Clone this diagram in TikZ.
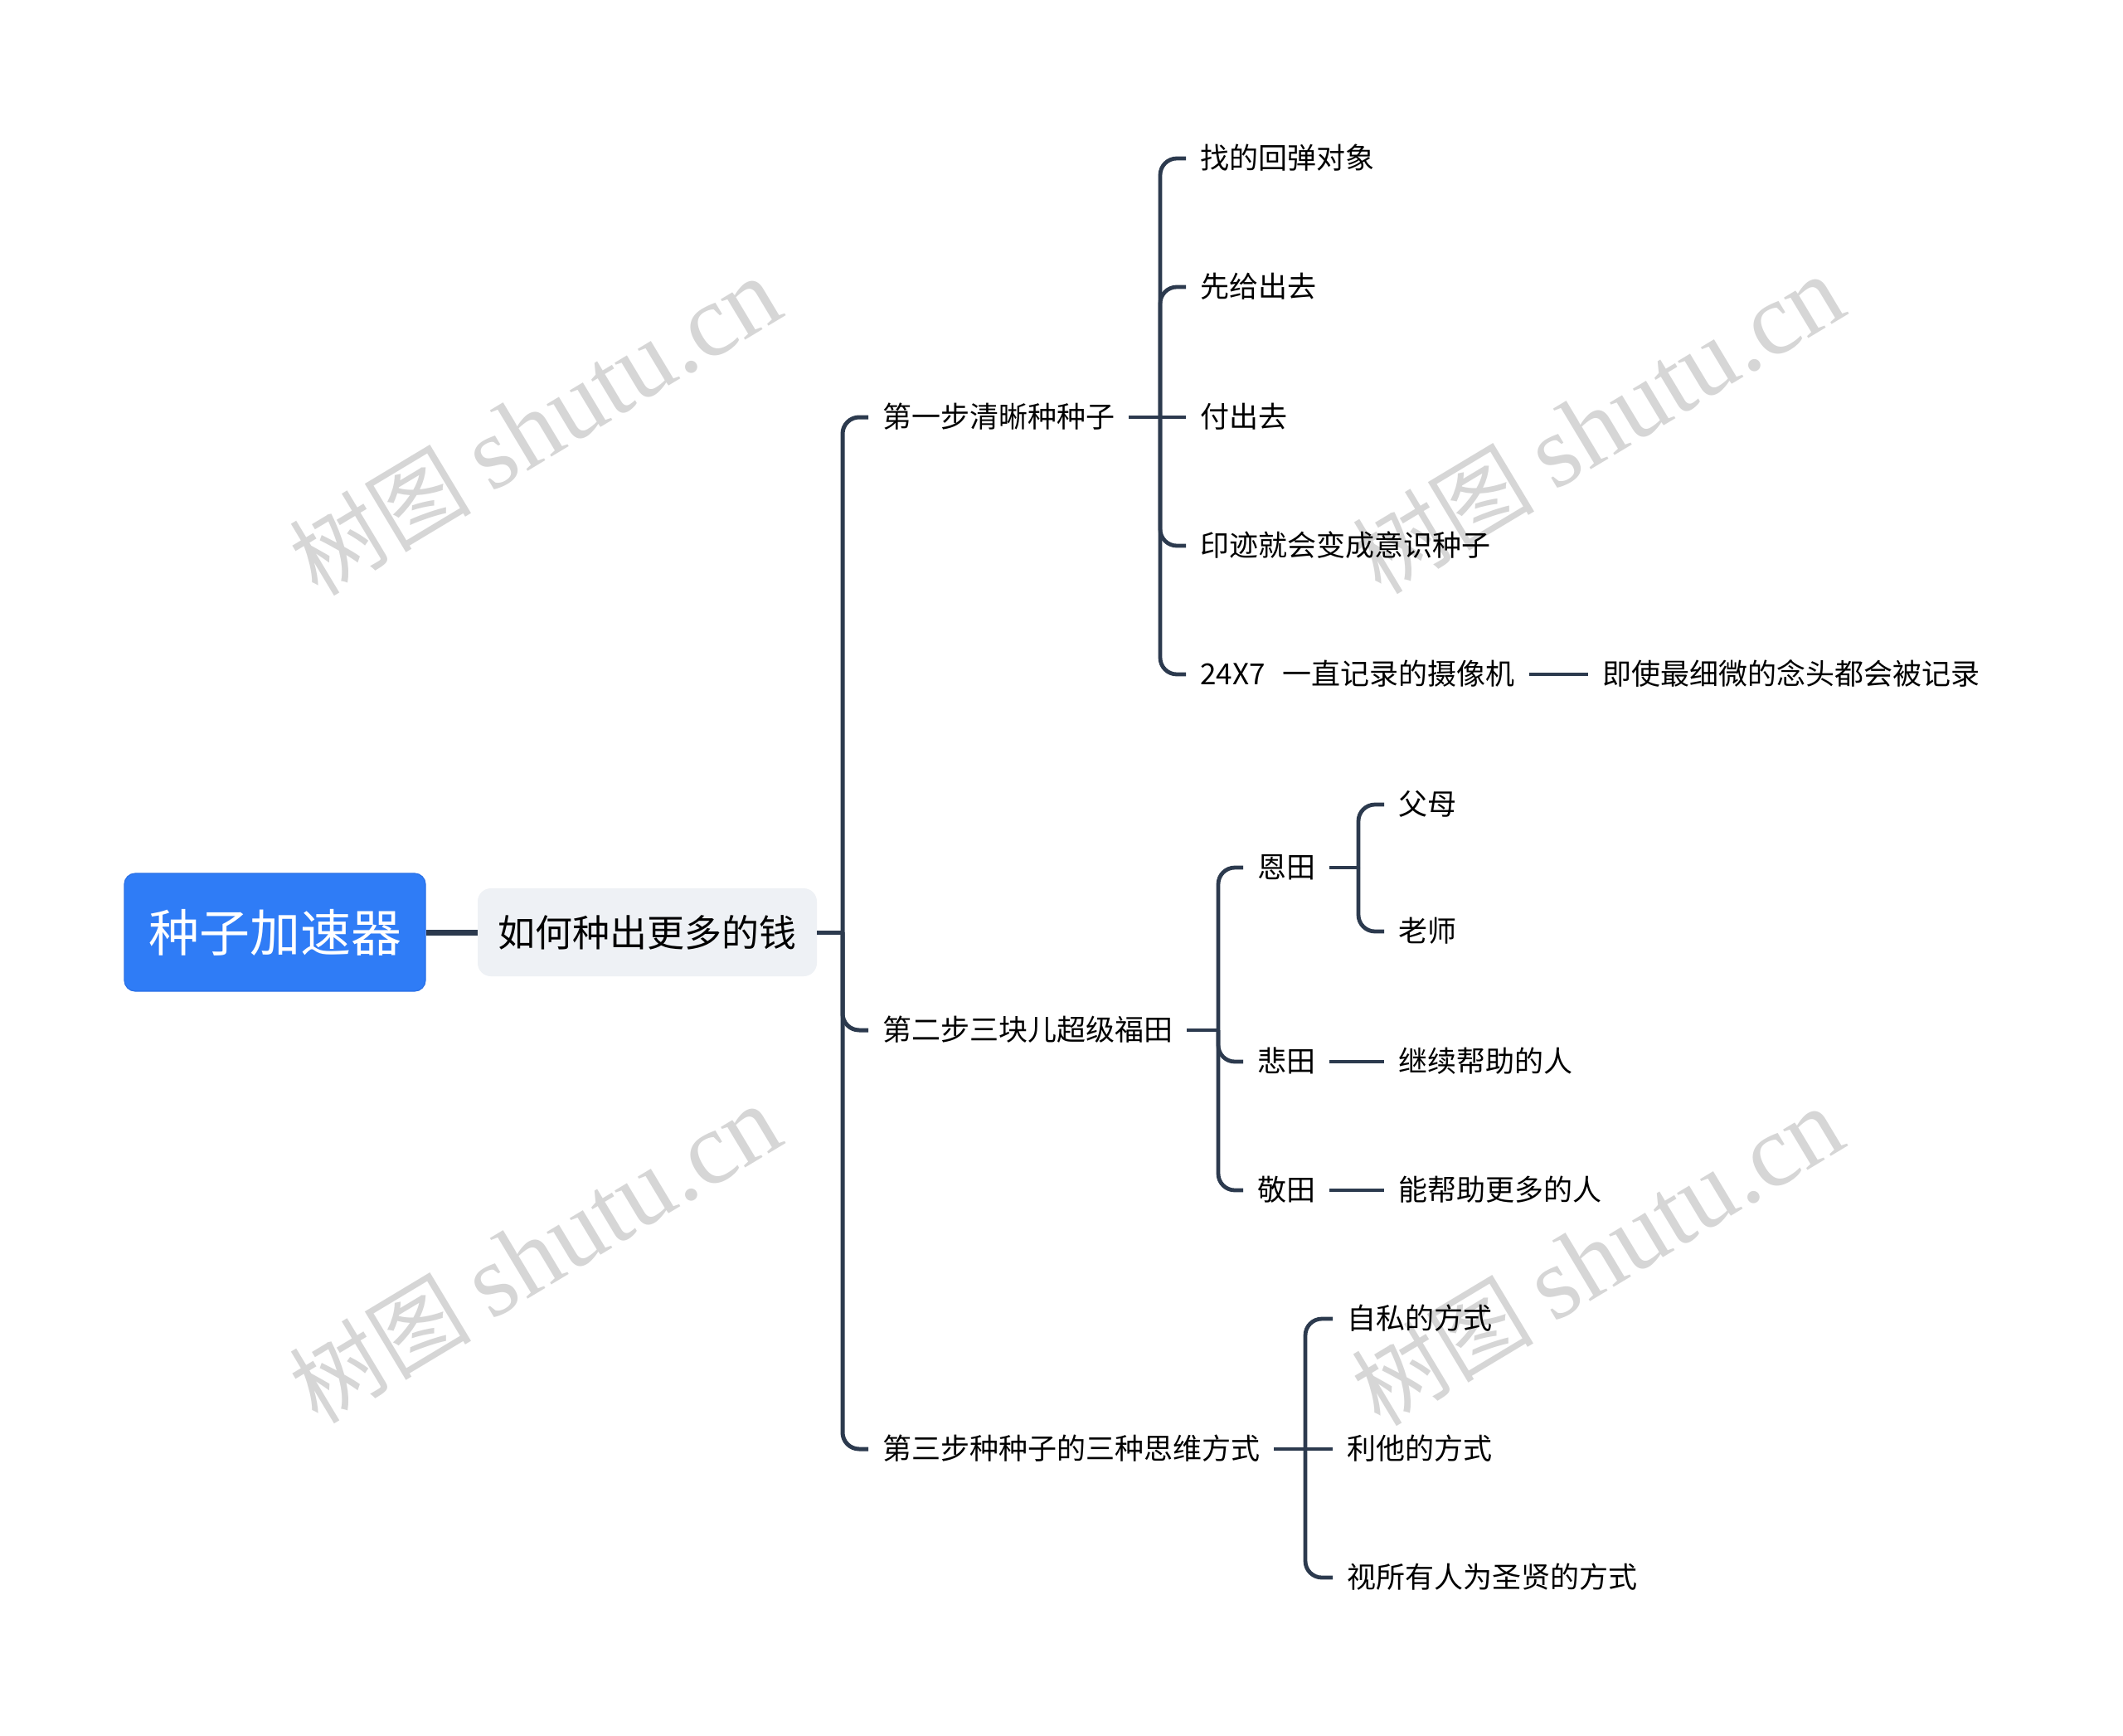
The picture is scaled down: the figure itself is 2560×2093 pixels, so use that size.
\documentclass[tikz,border=0pt]{standalone}
\usepackage{fontspec}
\setmainfont{Noto Sans CJK SC}
\newfontfamily\wmserif{Liberation Serif}
\definecolor{linecol}{HTML}{2C3A4E}
\definecolor{rootblue}{HTML}{2F7CF6}
\definecolor{rootedge}{HTML}{2A70E6}
\definecolor{subfill}{HTML}{EEF1F5}
\definecolor{wmgray}{HTML}{D6D6D6}
\begin{document}
\begin{tikzpicture}[x=1pt,y=-1pt,
  rootbox/.style={draw=rootedge, line width=1.2pt, fill=rootblue, rounded corners=13pt,
    minimum width=363pt, minimum height=142pt, inner sep=0pt, text=white,
    font=\fontsize{61}{70}\selectfont},
  subbox/.style={fill=subfill, rounded corners=16pt, minimum width=409pt,
    minimum height=106pt, inner sep=0pt, text=black, font=\fontsize{45}{54}\selectfont},
  txt/.style={anchor=west, inner xsep=17pt, inner ysep=0pt, text=black,
    font=\fontsize{35}{42}\selectfont, text height=30pt, text depth=5pt},
  conn/.style={draw=linecol, line width=4.8pt, rounded corners=20pt},
  wm/.style={text=wmgray, rotate=31, inner sep=0pt}
]
\useasboundingbox (0,0) rectangle (2560,2093);
\fill[white] (0,0) rectangle (2560,2093);

% watermarks
\foreach \p/\n in {{(645,514)}/wa,{(1927,512)}/wb,{(645,1512)}/wc,{(1926,1515)}/wd}{
  \node[wm] (\n) at \p {\fontsize{110}{120}\selectfont 树图 {\wmserif\fontsize{124}{130}\selectfont shutu.cn}};
}

% root and subtopic
\node[rootbox] (root) at (331.5,1124) {种子加速器};
\node[subbox] (sub) at (780.5,1124) {如何种出更多的钱};
\draw[draw=linecol, line width=7pt] (root.east) -- (sub.west);

\coordinate (t0) at (1016,1124);
\draw[draw=linecol, line width=5pt] (sub.east) -- (t0);

% level 1
\node[txt] (b1) at (1047,503) {第一步清晰种种子};
\node[txt] (b2) at (1047,1242) {第二步三块儿超级福田};
\node[txt] (b3) at (1047,1747) {第三步种种子的三种思维方式};
\draw[conn, line width=5pt] (t0) |- (b1.west);
\draw[conn, line width=5pt] (t0) |- (b2.west);
\draw[conn, line width=5pt] (t0) |- (b3.west);

% branch 1
\coordinate (t1) at (1399,503);
\draw[conn] (b1.east) -- (t1);
\node[txt] (c11) at (1430,191) {找的回弹对象};
\node[txt] (c12) at (1430,346) {先给出去};
\node[txt] (c13) at (1430,503) {付出去};
\node[txt] (c14) at (1430,658) {印迹就会变成意识种子};
\node[txt] (c15) at (1430,813) {24X7\hspace{0.6em}一直记录的摄像机};
\node[txt] (c16) at (1915,813) {即使最细微的念头都会被记录};
\draw[conn] (t1) |- (c11.west);
\draw[conn] (t1) |- (c12.west);
\draw[conn] (t1) -- (c13.west);
\draw[conn] (t1) |- (c14.west);
\draw[conn] (t1) |- (c15.west);
\draw[conn] (c15.east) -- (c16.west);

% branch 2
\coordinate (t2) at (1469,1242);
\draw[conn] (b2.east) -- (t2);
\node[txt] (d1) at (1499,1046) {恩田};
\node[txt] (d2) at (1499,1280) {悲田};
\node[txt] (d3) at (1499,1435) {敬田};
\draw[conn] (t2) |- (d1.west);
\draw[conn] (t2) |- (d2.west);
\draw[conn] (t2) |- (d3.west);

\coordinate (t21) at (1638,1046);
\draw[conn] (d1.east) -- (t21);
\node[txt] (e11) at (1669,970) {父母};
\node[txt] (e12) at (1669,1123) {老师};
\draw[conn] (t21) |- (e11.west);
\draw[conn] (t21) |- (e12.west);

\node[txt] (e21) at (1669,1280) {继续帮助的人};
\node[txt] (e31) at (1669,1435) {能帮助更多的人};
\draw[conn] (d2.east) -- (e21.west);
\draw[conn] (d3.east) -- (e31.west);

% branch 3
\coordinate (t3) at (1574,1747);
\draw[conn] (b3.east) -- (t3);
\node[txt] (f1) at (1607,1590) {自私的方式};
\node[txt] (f2) at (1607,1747) {利他的方式};
\node[txt] (f3) at (1607,1902) {视所有人为圣贤的方式};
\draw[conn] (t3) |- (f1.west);
\draw[conn] (t3) -- (f2.west);
\draw[conn] (t3) |- (f3.west);
\end{tikzpicture}
\end{document}
